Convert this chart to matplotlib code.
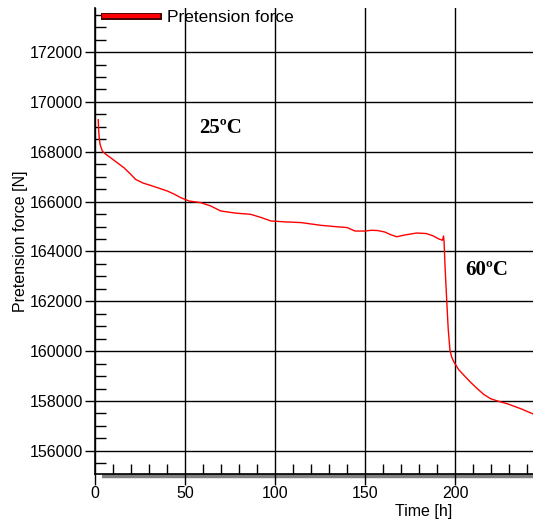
import matplotlib
matplotlib.use("Agg")
import matplotlib.pyplot as plt
import matplotlib.patheffects as pe
from matplotlib.ticker import MultipleLocator

plt.rcParams["font.family"] = ["Liberation Sans", "DejaVu Sans"]

time_h = [1.8, 2.0, 2.3, 2.8, 4.1, 6.0, 8.7, 12, 16.1, 19.5, 22.6, 26.5, 30.9, 35.5, 40.2,
          44, 47.6, 52.2, 58.7, 64.3, 69.8, 78, 86.5, 92, 97.6, 105, 114.3, 125.4, 133, 140,
          144.4, 150, 153.7, 157, 161, 164, 167.6, 172, 178.7, 184, 188, 191, 193.0, 193.6,
          193.9, 194.5, 195.4, 196.2, 197.2, 198.2, 199.4, 202, 205, 208.5, 212.4, 216,
          219.8, 224, 229, 236.5, 243]
force_n = [169290, 168900, 168600, 168300, 168025, 167900, 167760, 167580, 167360, 167120,
           166890, 166750, 166650, 166540, 166425, 166300, 166160, 166025, 165960, 165825,
           165625, 165540, 165490, 165370, 165225, 165190, 165160, 165050, 165000, 164960,
           164820, 164820, 164850, 164840, 164780, 164680, 164590, 164660, 164740, 164720,
           164620, 164500, 164450, 164620, 164400, 163300, 162000, 160890, 160020, 159750,
           159560, 159260, 159025, 158760, 158490, 158260, 158090, 157990, 157890, 157690,
           157490]

y_major = list(range(156000, 174000, 2000))
x_major = [0, 50, 100, 150, 200]

fig = plt.figure(figsize=(5.33, 5.22), dpi=100)
ax = fig.add_axes([95/533, 48/522, 438/533, 466/522])
ax.set_xlim(0, 243.3)
ax.set_ylim(155070, 173770)

ax.plot(time_h, force_n, color="#ff0000", lw=1.0, label="Pretension force", zorder=3)

ax.set_xticks(x_major)
ax.set_yticks(y_major)
ax.xaxis.set_minor_locator(MultipleLocator(10))
ax.yaxis.set_minor_locator(MultipleLocator(500))
ax.grid(True, which="major", color="black", lw=1.0)
ax.tick_params(axis="y", which="major", direction="out", length=7, width=1.0,
               labelsize=11.5, pad=1.5)
ax.tick_params(axis="y", which="minor", direction="in", length=8, width=1.0)
ax.tick_params(axis="x", which="major", direction="out", length=8, width=1.0,
               labelsize=11.5, pad=1)
ax.tick_params(axis="x", which="minor", direction="in", length=7, width=1.0)
for s in ["top", "right"]:
    ax.spines[s].set_visible(False)
for s in ["left", "bottom"]:
    ax.spines[s].set_linewidth(1.2)

# shadow bar beneath x-axis
ax.plot([0.016, 1.0], [-0.005, -0.005], transform=ax.transAxes, color="#808080",
        lw=3.2, clip_on=False, solid_capstyle="butt", zorder=1)

ax.set_ylabel("Pretension force [N]", fontsize=11.5, labelpad=1)
ax.set_xlabel("Time [h]", fontsize=11.5)
ax.xaxis.set_label_coords(0.751, -0.080)
ax.xaxis.label.set_va("center")

ax.text(58, 168960, "25ºC", fontsize=15, fontweight="bold", family="Liberation Serif",
        ha="left", va="center")
ax.text(205.5, 163240, "60ºC", fontsize=15, fontweight="bold", family="Liberation Serif",
        ha="left", va="center")

leg = ax.legend(loc="upper left", bbox_to_anchor=(-0.003, 1.018), frameon=False,
                fontsize=12.5, handlelength=3.1, handletextpad=0.5, borderaxespad=0.2)
for ln in leg.get_lines():
    ln.set_linewidth(3)
    ln.set_path_effects([pe.Stroke(linewidth=5, foreground="#400000"), pe.Normal()])

fig.savefig("out.png", dpi=100)
